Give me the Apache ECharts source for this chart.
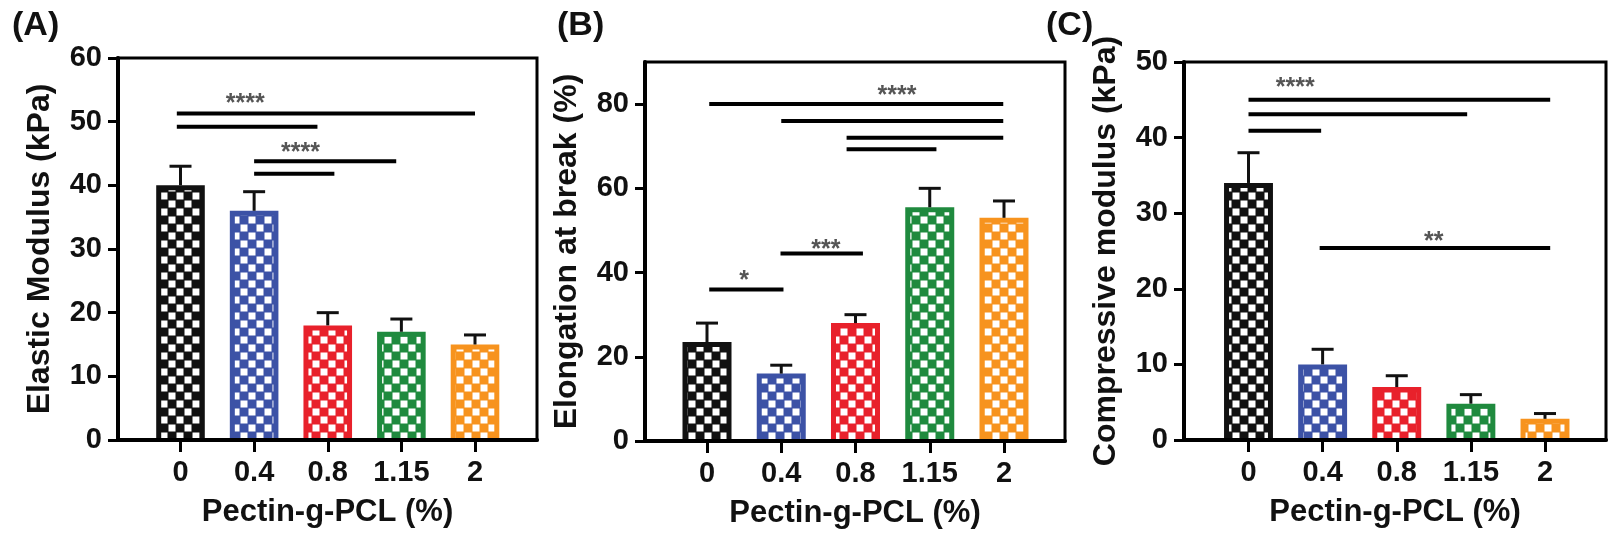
<!DOCTYPE html>
<html><head><meta charset="utf-8">
<script src="https://cdn.jsdelivr.net/npm/echarts@6/dist/echarts.min.js"></script>
<style>html,body{margin:0;padding:0;background:#fff}#c{width:1618px;height:543px}</style>
</head><body><div id="c"></div>
<script>
// ---------- data ----------
const categories = ['0', '0.4', '0.8', '1.15', '2'];
const barColors = ['#111111', '#3c52a6', '#e8212b', '#1f8a3e', '#f7931e'];

const elasticMean = [40, 36, 18, 17, 15];
const elasticSD   = [3, 3, 2, 2, 1.5];
const elongMean   = [23.5, 16, 28, 55.5, 53];
const elongSD     = [4.5, 2, 2, 4.5, 4];
const compMean    = [34, 10, 7, 4.8, 2.8];
const compSD      = [4, 2, 1.5, 1.2, 0.7];

const elasticTicks = [0, 10, 20, 30, 40, 50, 60];
const elongTicks   = [0, 20, 40, 60, 80];
const compTicks    = [0, 10, 20, 30, 40, 50];

// significance bars: [from category, to category, y value]
const elasticSig = [[-0.05, 4.0, 51.3], [-0.05, 1.86, 49.2], [1.0, 2.93, 43.8], [1.0, 2.09, 41.8]];
const elongSig   = [[0.03, 3.99, 80], [1.0, 3.99, 76], [1.88, 3.99, 72], [1.88, 3.09, 69.3], [0.99, 2.1, 44.5], [0.03, 1.03, 36]];
const compSig    = [[0, 4.07, 45], [0, 2.95, 43.1], [0, 0.98, 40.9], [0.96, 4.07, 25.4]];
// significance labels: [text, category position, y value]
const elasticStars = [['****', 0.88, 53.5], ['****', 1.63, 45.8]];
const elongStars   = [['****', 2.56, 83], ['***', 1.6, 46.6], ['*', 0.5, 39.2]];
const compStars    = [['****', 0.63, 47.2], ['**', 2.5, 26.9]];

const xTitle = 'Pectin-g-PCL (%)';

// ---------- layout ----------
const FONT = '"Liberation Sans", Arial, sans-serif';
const panels = [
  {L:118, R:537, T:58, B:440, c0:180.5, c4:475, title:'(A)', tx:7,
   yName:'Elastic Modulus (kPa)', max:60, interval:10, ticks:elasticTicks,
   mean:elasticMean, sd:elasticSD, sig:elasticSig, stars:elasticStars},
  {L:645, R:1065, T:62, B:441, c0:707, c4:1004, title:'(B)', tx:552,
   yName:'Elongation at break (%)', max:90, interval:20, ticks:elongTicks,
   mean:elongMean, sd:elongSD, sig:elongSig, stars:elongStars},
  {L:1184, R:1606, T:62, B:440, c0:1248.5, c4:1545, title:'(C)', tx:1041,
   yName:'Compressive modulus (kPa)', max:50, interval:10, ticks:compTicks,
   mean:compMean, sd:compSD, sig:compSig, stars:compStars}
];

// checker patterns
function makePattern(color) {
  const c = document.createElement('canvas');
  c.width = 16; c.height = 16;
  const g = c.getContext('2d');
  g.fillStyle = color; g.fillRect(0, 0, 16, 16);
  g.fillStyle = '#ffffff';
  g.fillRect(0.5, 0.5, 7, 7);
  g.fillRect(8.5, 8.5, 7, 7);
  return c;
}
const patterns = barColors.map(makePattern);

const grids = [], xAxes = [], yAxes = [], series = [], titles = [];

panels.forEach((p, k) => {
  const s = (p.c4 - p.c0) / 4;
  const outer = 2 * k, inner = 2 * k + 1;
  grids.push({left:p.L, top:p.T, width:p.R - p.L, height:p.B - p.T, show:true,
              borderColor:'#000', borderWidth:3, backgroundColor:'transparent'});
  grids.push({left:p.c0 - s / 2, top:p.T, width:5 * s, height:p.B - p.T});

  xAxes.push({gridIndex:outer, type:'value', min:-(p.c0 - p.L) / s, max:4 + (p.R - p.c4) / s, z:10,
    axisLine:{show:true, onZero:false, lineStyle:{color:'#000', width:4}},
    axisTick:{show:false}, axisLabel:{show:false}, splitLine:{show:false},
    name:xTitle, nameLocation:'middle', nameGap:57,
    nameTextStyle:{fontSize:31, fontWeight:'bold', color:'#111', fontFamily:FONT}});
  xAxes.push({gridIndex:inner, type:'category', data:categories, z:10,
    axisLine:{show:false},
    axisTick:{show:true, alignWithLabel:true, length:12, lineStyle:{color:'#000', width:3}},
    axisLabel:{margin:18, fontSize:29, fontWeight:'bold', color:'#111', fontFamily:FONT},
    splitLine:{show:false}});

  yAxes.push({gridIndex:outer, type:'value', min:0, max:p.max, interval:p.interval, z:10,
    axisLine:{show:true, onZero:false, lineStyle:{color:'#000', width:4}},
    axisTick:{show:true, inside:false, length:10, lineStyle:{color:'#000', width:3}, customValues:p.ticks},
    axisLabel:{margin:16, fontSize:29, fontWeight:'bold', color:'#111', fontFamily:FONT, customValues:p.ticks,
      formatter:v => (p.ticks.indexOf(v) >= 0 ? String(v) : '')},
    splitLine:{show:false},
    name:p.yName, nameLocation:'middle', nameGap:62,
    nameTextStyle:{fontSize:32, fontWeight:'bold', color:'#111', fontFamily:FONT}});
  yAxes.push({gridIndex:inner, type:'value', min:0, max:p.max, show:false, splitLine:{show:false}});

  titles.push({text:p.title, left:p.tx, top:4,
    textStyle:{fontSize:34, fontWeight:'bold', color:'#111', fontFamily:FONT}});

  // bars
  series.push({type:'custom', xAxisIndex:inner, yAxisIndex:inner, z:3,
    data:p.mean.map((v, i) => [i, v]),
    renderItem:(params, api) => {
      const i = api.value(0), v = api.value(1);
      const top = api.coord([i, v]), base = api.coord([i, 0]);
      const bw = api.size([1, 0])[0] * 0.66;
      const x = top[0] - bw / 2, h = base[1] - top[1], b = 5;
      return {type:'group', children:[
        {type:'rect', shape:{x:x, y:top[1], width:bw, height:h}, style:{fill:barColors[i]}},
        {type:'rect', shape:{x:x + b, y:top[1] + b, width:bw - 2 * b, height:Math.max(0, h - b)},
         style:{fill:{image:patterns[i], repeat:'repeat'}}}
      ]};
    }});
  // error bars
  series.push({type:'custom', xAxisIndex:inner, yAxisIndex:inner, z:4,
    data:p.mean.map((v, i) => [i, v, p.sd[i]]),
    renderItem:(params, api) => {
      const i = api.value(0), m = api.value(1), sd = api.value(2);
      const p0 = api.coord([i, m]), p1 = api.coord([i, m + sd]);
      const cw = 22;
      return {type:'group', children:[
        {type:'line', shape:{x1:p0[0], y1:p0[1], x2:p1[0], y2:p1[1]}, style:{stroke:'#111', lineWidth:3}},
        {type:'line', shape:{x1:p1[0] - cw / 2, y1:p1[1], x2:p1[0] + cw / 2, y2:p1[1]}, style:{stroke:'#111', lineWidth:3}}
      ]};
    }});
  // significance lines
  series.push({type:'custom', xAxisIndex:outer, yAxisIndex:outer, z:5,
    data:p.sig,
    renderItem:(params, api) => {
      const a = api.coord([api.value(0), api.value(2)]), c = api.coord([api.value(1), api.value(2)]);
      return {type:'line', shape:{x1:a[0], y1:a[1], x2:c[0], y2:c[1]}, style:{stroke:'#000', lineWidth:4}};
    }});
  // significance stars
  series.push({type:'custom', xAxisIndex:outer, yAxisIndex:outer, z:5,
    data:p.stars.map(d => [d[1], d[2]]),
    renderItem:(params, api) => {
      const pt = api.coord([api.value(0), api.value(1)]);
      return {type:'text', style:{text:p.stars[params.dataIndex][0], x:pt[0], y:pt[1] + 5,
        align:'center', verticalAlign:'middle', fontSize:25, fontWeight:'bold', fontFamily:FONT, fill:'#555'}};
    }});
});

const chart = echarts.init(document.getElementById('c'), null, {renderer:'canvas'});
chart.setOption({
  animation:false,
  backgroundColor:'#ffffff',
  title:titles,
  grid:grids,
  xAxis:xAxes,
  yAxis:yAxes,
  series:series
});
</script>
</body></html>
